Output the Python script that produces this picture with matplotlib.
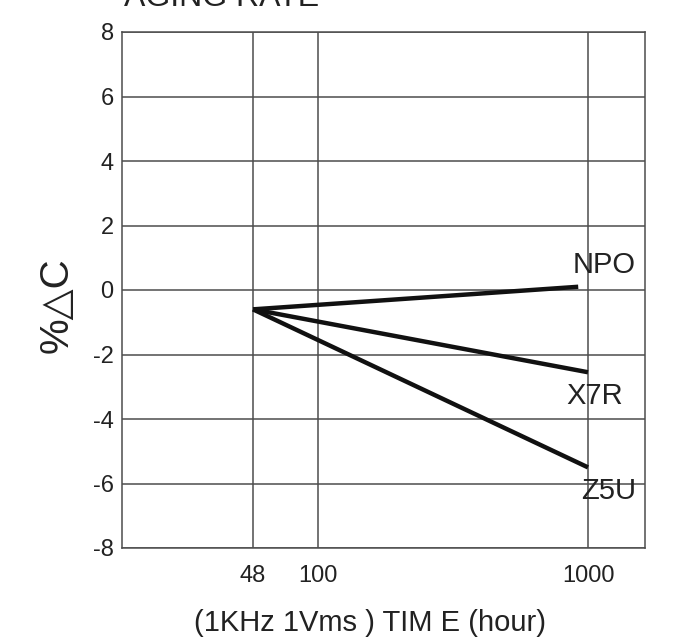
import numpy as np
import matplotlib
matplotlib.use("Agg")
from matplotlib import pyplot as plt

plt.rcParams['font.family'] = ['Liberation Sans', 'DejaVu Sans']
plt.rcParams['axes.unicode_minus'] = False

# data
hours = [48, 1000]
npo = [-0.6, 0.1]
x7r = [-0.6, -2.55]
z5u = [-0.6, -5.5]
npo_hours = [48, 920]
series = [("NPO", npo_hours, npo, (19, 16)),
          ("X7R", hours, x7r, (5, -17)),
          ("Z5U", hours, z5u, (15, -17))]

xticks = [48, 100, 1000]
yticks = np.arange(-8, 9, 2)

# the original axis is not a clean log scale: piecewise by segments
seg_log = np.log10([10, 48, 100, 1000, 2000])
seg_pos = np.array([0, 131, 196, 466, 523], dtype=float)

def fwd(x):
	x = np.clip(np.asarray(x, dtype=float), 1e-3, None)
	return np.interp(np.log10(x), seg_log, seg_pos)

def inv(p):
	return 10 ** np.interp(np.asarray(p, dtype=float), seg_pos, seg_log)

grey = '#4d4d4d'
ink = '#222222'

fig = plt.figure(figsize=(6.75, 6.41), dpi=100)
ax = fig.add_axes([122/675, 1 - 548/641, 523/675, 516/641])
ax.set_xscale('function', functions=(fwd, inv))
ax.set_xlim(10, 2000)
ax.set_ylim(-8, 8)
ax.set_xticks(xticks)
ax.set_xticklabels([str(t) for t in xticks])
ax.set_yticks(yticks)
ax.minorticks_off()
ax.tick_params(length=0, labelsize=17, colors=ink)
ax.tick_params(axis='x', pad=12)
ax.tick_params(axis='y', pad=6)
ax.grid(True, color=grey, lw=1.1)
for s in ax.spines.values():
	s.set_color(grey)
	s.set_linewidth(1.1)

for name, xs, ys, off in series:
	ax.plot(xs, ys, color='#111111', lw=3.2, solid_capstyle='butt')
	ax.annotate(name, xy=(xs[-1], ys[-1]), xytext=off, textcoords='offset points',
				ha='center', va='center', fontsize=21, color=ink)

fig.text(222/675, 1 - 6/641, "AGING RATE", ha='center', va='baseline', fontsize=23, color=ink)
fig.text(370/675, 1 - 623/641, "(1KHz 1Vms ) TIM E (hour)", ha='center', va='center', fontsize=21, color=ink)
fig.text(57/675, 1 - 305/641, "%\u25b3C", ha='center', va='center', rotation=90, fontsize=29, color=ink)

fig.savefig("out.png", dpi=100)
